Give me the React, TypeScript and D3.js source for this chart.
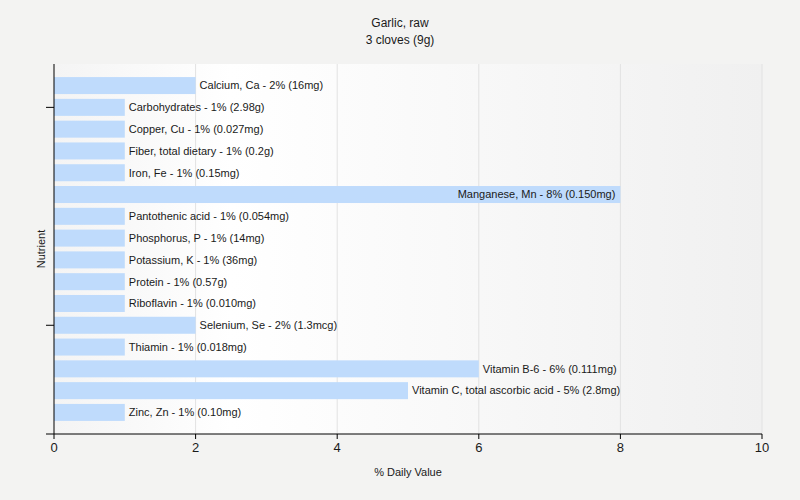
import React from "react";
import * as d3 from "d3";

const nutrients = [
  "Calcium, Ca", "Carbohydrates", "Copper, Cu", "Fiber, total dietary", "Iron, Fe",
  "Manganese, Mn", "Pantothenic acid", "Phosphorus, P", "Potassium, K", "Protein",
  "Riboflavin", "Selenium, Se", "Thiamin", "Vitamin B-6", "Vitamin C, total ascorbic acid", "Zinc, Zn",
];
const values = [2, 1, 1, 1, 1, 8, 1, 1, 1, 1, 1, 2, 1, 6, 5, 1];
const amounts = [
  "16mg", "2.98g", "0.027mg", "0.2g", "0.15mg", "0.150mg", "0.054mg", "14mg", "36mg", "0.57g",
  "0.010mg", "1.3mcg", "0.018mg", "0.111mg", "2.8mg", "0.10mg",
];
const xTicks = [0, 2, 4, 6, 8, 10];
const yTickCategories = ["Carbohydrates", "Selenium, Se"];

const W = 800, H = 500;
const L = 54, R = 762, T = 64, B = 434;
const FONT = "'Liberation Sans', Arial, sans-serif";

export default function App() {
  const x = d3.scaleLinear().domain([0, 10]).range([L, R]);
  const y = d3.scaleBand<string>().domain(nutrients).range([T, B]).paddingInner(0.22).paddingOuter(0.6);
  const fs = 11;
  const approxWidth = (s: string) => s.length * fs * 0.5;
  return (
    <svg width={W} height={H} style={{ position: "absolute", left: 0, top: 0 }} fontFamily={FONT}>
      <defs>
        <linearGradient id="plotbg" x1="0" x2="1" y1="0" y2="0">
          <stop offset="0" stopColor="#f4f4f4" />
          <stop offset="0.25" stopColor="#ffffff" />
          <stop offset="1" stopColor="#f0f0f0" />
        </linearGradient>
      </defs>
      <rect x={0} y={0} width={W} height={H} fill="#f3f3f2" />
      <rect x={L} y={T} width={R - L} height={B - T} fill="url(#plotbg)" />
      {xTicks.filter((t) => t > 0).map((t) => (
        <line key={t} x1={x(t)} x2={x(t)} y1={T} y2={B} stroke="#e2e2e2" strokeWidth={1} />
      ))}
      {nutrients.map((n, i) => {
        const v = values[i];
        const label = `${n} - ${v}% (${amounts[i]})`;
        const bx = x(v);
        const yy = y(n)!;
        const inside = bx + 4 + approxWidth(label) > R;
        return (
          <g key={n}>
            <rect x={x(0)} y={yy} width={bx - x(0)} height={y.bandwidth()} fill="#bfdbfc" />
            <text
              x={inside ? bx - 5 : bx + 4}
              y={yy + y.bandwidth() / 2}
              dy="0.35em"
              textAnchor={inside ? "end" : "start"}
              fontSize={fs}
              fill="#1a1a1a"
            >
              {label}
            </text>
          </g>
        );
      })}
      <line x1={L} x2={L} y1={T} y2={B} stroke="#000" />
      <line x1={L - 8} x2={R} y1={B} y2={B} stroke="#000" />
      {yTickCategories.map((c) => (
        <line key={c} x1={L - 8} x2={L} y1={y(c)! + y.bandwidth() / 2} y2={y(c)! + y.bandwidth() / 2} stroke="#000" />
      ))}
      {xTicks.map((t) => (
        <g key={t}>
          <line x1={x(t)} x2={x(t)} y1={B} y2={B + 5} stroke="#000" />
          <text x={x(t)} y={B + 18} textAnchor="middle" fontSize={13} fill="#1a1a1a">
            {t}
          </text>
        </g>
      ))}
      <text x={(L + R) / 2} y={476} textAnchor="middle" fontSize={11} fill="#1a1a1a">% Daily Value</text>
      <text transform={`translate(45,${(T + B) / 2}) rotate(-90)`} textAnchor="middle" fontSize={11} fill="#1a1a1a">
        Nutrient
      </text>
      <text x={W / 2} y={27} textAnchor="middle" fontSize={12} fill="#1a1a1a">Garlic, raw</text>
      <text x={W / 2} y={44} textAnchor="middle" fontSize={12} fill="#1a1a1a">3 cloves (9g)</text>
    </svg>
  );
}
